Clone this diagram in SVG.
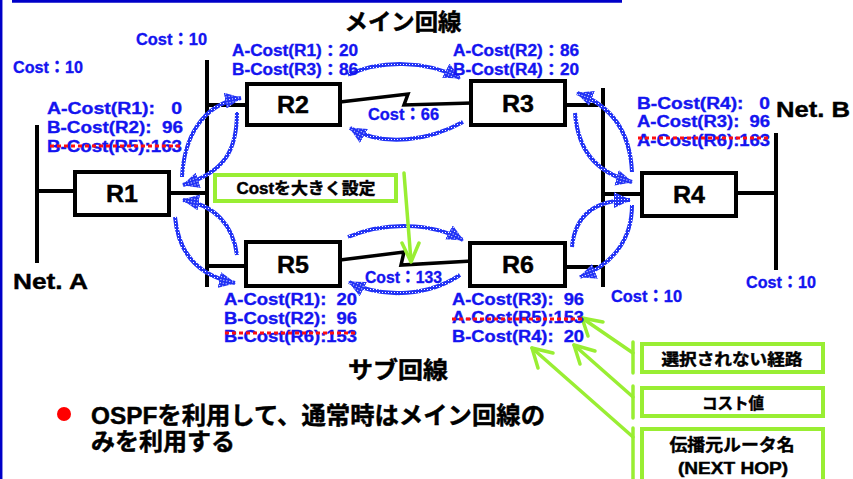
<svg xmlns="http://www.w3.org/2000/svg" width="853" height="479" viewBox="0 0 853 479">
<style>
.lbl{font-family:'Liberation Sans','Noto Sans CJK JP',sans-serif;font-weight:bold;font-size:16px;fill:#1414f0;stroke:#1414f0;stroke-width:0.35;white-space:pre}
.cost{font-family:'Liberation Sans','Noto Sans CJK JP',sans-serif;font-weight:bold;font-size:17px;fill:#1414f0;stroke:#1414f0;stroke-width:0.35}
.rt{font-family:'Liberation Sans',sans-serif;font-weight:bold;font-size:23px;fill:#000;stroke:#000;stroke-width:0.4;text-anchor:middle}
.net{font-family:'Liberation Sans',sans-serif;font-weight:bold;font-size:22px;fill:#000;stroke:#000;stroke-width:0.4}
.jp{font-family:'Liberation Sans','Noto Sans CJK JP',sans-serif;font-weight:bold;fill:#000;stroke:#000;stroke-width:0.45}
.box{fill:#fff;stroke:#000;stroke-width:4}
.wire{stroke:#000;stroke-width:4;fill:none}
.link{stroke:#000;stroke-width:3.5;fill:none;stroke-linejoin:miter}
.gbox{fill:#fff;stroke:#99ee33;stroke-width:4}
.gl{stroke:#99ee33;stroke-width:3.5;fill:none;stroke-linecap:round;stroke-linejoin:round}
.adv{stroke:url(#chk);stroke-width:4;fill:none;marker-end:url(#ah)}
.strike{stroke:#ff1010;stroke-width:3;stroke-dasharray:4 3}
</style>
<defs>
<pattern id="chk" width="3" height="3" patternUnits="userSpaceOnUse">
<rect width="3" height="3" fill="#2233f5"/>
<rect x="1" y="1" width="1" height="1" fill="#ffffff"/>
</pattern>
<marker id="ah" markerUnits="userSpaceOnUse" markerWidth="17" markerHeight="16" viewBox="0 0 17 16" refX="16" refY="8" orient="auto">
<path d="M0,0 L17,8 L0,16 Z" fill="url(#chk)"/>
</marker>
</defs>

<g id="frame">
<line x1="1.2" y1="0" x2="1.2" y2="479" stroke="#0000c8" stroke-width="2.5"/>
<line x1="12" y1="1.2" x2="622" y2="1.2" stroke="#0000c8" stroke-width="3"/>
</g>

<g id="titles">
<text class="jp" x="403" y="30" font-size="23" text-anchor="middle" textLength="117" lengthAdjust="spacingAndGlyphs">メイン回線</text>
<text class="jp" x="398" y="378" font-size="23" text-anchor="middle" textLength="100" lengthAdjust="spacingAndGlyphs">サブ回線</text>
</g>

<g id="NetA">
<line class="wire" x1="37" y1="125" x2="37" y2="263"/>
<text class="net" x="13" y="289" textLength="75" lengthAdjust="spacingAndGlyphs">Net. A</text>
</g>
<g id="NetB">
<line class="wire" x1="776" y1="133" x2="776" y2="270"/>
<text class="net" x="776" y="117" textLength="74" lengthAdjust="spacingAndGlyphs">Net. B</text>
</g>
<g id="mainBusLeft">
<line class="wire" x1="207" y1="60" x2="207" y2="287"/>
</g>
<g id="mainBusRight">
<line class="wire" x1="603" y1="88" x2="603" y2="287"/>
</g>

<g id="connectors">
<line class="wire" x1="37" y1="191" x2="77" y2="191"/>
<line class="wire" x1="168" y1="193" x2="207" y2="193"/>
<line class="wire" x1="207" y1="105" x2="249" y2="105"/>
<line class="wire" x1="207" y1="266" x2="248" y2="266"/>
<line class="wire" x1="563" y1="105" x2="603" y2="105"/>
<line class="wire" x1="563" y1="267" x2="603" y2="267"/>
<line class="wire" x1="603" y1="194" x2="644" y2="194"/>
<line class="wire" x1="734" y1="193" x2="776" y2="193"/>
<polyline class="link" points="340,102 408,94 404,105 472,103"/>
<polyline class="link" points="340,260 404,252 401,265 472,261"/>
<path class="adv" d="M182,177 C184,140 200,105 241,98"/>
<path class="adv" d="M237,112 C237,150 225,172 183,185"/>
<path class="adv" d="M237,255 C233,225 215,205 183,200"/>
<path class="adv" d="M175,217 C178,250 195,275 235,283"/>
<path class="adv" d="M348,75 C380,60 425,60 460,78"/>
<path class="adv" d="M463,122 C430,140 385,148 350,128"/>
<path class="adv" d="M632,172 C630,130 610,105 577,93"/>
<path class="adv" d="M575,113 C578,150 595,172 632,182"/>
<path class="adv" d="M572,247 C575,215 595,200 630,200"/>
<path class="adv" d="M632,205 C632,240 612,265 580,277"/>
<path class="adv" d="M348,237 C385,222 430,222 463,240"/>
<path class="adv" d="M460,275 C430,295 385,300 349,282"/>
<line class="gl" x1="404" y1="173" x2="411" y2="261"/>
<polyline class="gl" points="402,243 411,262 419,243"/>
<line class="gl" x1="633" y1="353" x2="582" y2="318"/>
<polyline class="gl" points="603,322 582,318 588,336"/>
<line class="gl" x1="633" y1="397" x2="574" y2="345"/>
<polyline class="gl" points="595,351 574,345 580,364"/>
<line class="gl" x1="633" y1="437" x2="532" y2="348"/>
<polyline class="gl" points="553,353 532,348 538,368"/>
<line class="gl" x1="633" y1="342" x2="633" y2="373" stroke-linecap="butt"/>
<line class="gl" x1="633" y1="386" x2="633" y2="418" stroke-linecap="butt"/>
<line class="gl" x1="633" y1="428" x2="633" y2="479" stroke-linecap="butt"/>
</g>

<g id="R1"><rect class="box" x="75" y="172" width="94" height="43"/><text class="rt" x="122" y="202" textLength="32" lengthAdjust="spacingAndGlyphs">R1</text></g>
<g id="R2"><rect class="box" x="247" y="84" width="93" height="41"/><text class="rt" x="293" y="113" textLength="32" lengthAdjust="spacingAndGlyphs">R2</text></g>
<g id="R3"><rect class="box" x="471" y="81" width="94" height="44"/><text class="rt" x="518" y="112" textLength="32" lengthAdjust="spacingAndGlyphs">R3</text></g>
<g id="R4"><rect class="box" x="642" y="173" width="94" height="43"/><text class="rt" x="689" y="203" textLength="32" lengthAdjust="spacingAndGlyphs">R4</text></g>
<g id="R5"><rect class="box" x="246" y="242" width="94" height="44"/><text class="rt" x="293" y="273" textLength="32" lengthAdjust="spacingAndGlyphs">R5</text></g>
<g id="R6"><rect class="box" x="470" y="243" width="95" height="43"/><text class="rt" x="518" y="273" textLength="32" lengthAdjust="spacingAndGlyphs">R6</text></g>

<g id="costLabels">
<text class="cost" x="136" y="45" textLength="71" lengthAdjust="spacingAndGlyphs">Cost：10</text>
<text class="cost" x="13" y="73" textLength="70" lengthAdjust="spacingAndGlyphs">Cost：10</text>
<text class="cost" x="368" y="120" textLength="71" lengthAdjust="spacingAndGlyphs">Cost：66</text>
<text class="cost" x="365" y="283" textLength="77" lengthAdjust="spacingAndGlyphs">Cost：133</text>
<text class="cost" x="611" y="302" textLength="71" lengthAdjust="spacingAndGlyphs">Cost：10</text>
<text class="cost" x="746" y="288" textLength="70" lengthAdjust="spacingAndGlyphs">Cost：10</text>
</g>

<g id="tableR1">
<text class="lbl" x="47" y="114" textLength="135" lengthAdjust="spacingAndGlyphs" xml:space="preserve">A-Cost(R1):   0</text>
<text class="lbl" x="47" y="133" textLength="136" lengthAdjust="spacingAndGlyphs" xml:space="preserve">B-Cost(R2):  96</text>
<text class="lbl" x="47" y="152" textLength="135" lengthAdjust="spacingAndGlyphs">B-Cost(R5):163</text>
<line class="strike" x1="50" y1="146" x2="182" y2="146"/>
</g>
<g id="tableR2">
<text class="lbl" x="232" y="56" textLength="126" lengthAdjust="spacingAndGlyphs">A-Cost(R1)：20</text>
<text class="lbl" x="232" y="75" textLength="126" lengthAdjust="spacingAndGlyphs">B-Cost(R3)：86</text>
</g>
<g id="tableR3">
<text class="lbl" x="453" y="56" textLength="126" lengthAdjust="spacingAndGlyphs">A-Cost(R2)：86</text>
<text class="lbl" x="453" y="75" textLength="126" lengthAdjust="spacingAndGlyphs">B-Cost(R4)：20</text>
</g>
<g id="tableR4">
<text class="lbl" x="637" y="109" textLength="133" lengthAdjust="spacingAndGlyphs" xml:space="preserve">B-Cost(R4):   0</text>
<text class="lbl" x="637" y="127" textLength="133" lengthAdjust="spacingAndGlyphs" xml:space="preserve">A-Cost(R3):  96</text>
<text class="lbl" x="637" y="146" textLength="133" lengthAdjust="spacingAndGlyphs">A-Cost(R6):163</text>
<line class="strike" x1="638" y1="138" x2="768" y2="138"/>
</g>
<g id="tableR5">
<text class="lbl" x="224" y="305" textLength="133" lengthAdjust="spacingAndGlyphs" xml:space="preserve">A-Cost(R1):  20</text>
<text class="lbl" x="224" y="324" textLength="133" lengthAdjust="spacingAndGlyphs" xml:space="preserve">B-Cost(R2):  96</text>
<text class="lbl" x="224" y="342" textLength="133" lengthAdjust="spacingAndGlyphs">B-Cost(R6):153</text>
<line class="strike" x1="225" y1="333" x2="355" y2="333"/>
</g>
<g id="tableR6">
<text class="lbl" x="452" y="305" textLength="132" lengthAdjust="spacingAndGlyphs" xml:space="preserve">A-Cost(R3):  96</text>
<text class="lbl" x="452" y="323" textLength="132" lengthAdjust="spacingAndGlyphs">A-Cost(R5):153</text>
<text class="lbl" x="452" y="342" textLength="132" lengthAdjust="spacingAndGlyphs" xml:space="preserve">B-Cost(R4):  20</text>
<line class="strike" x1="452" y1="319" x2="585" y2="319"/>
</g>

<g id="noteCost">
<rect class="gbox" x="215" y="175" width="181" height="26"/>
<text class="jp" x="306" y="194" font-size="16" text-anchor="middle" textLength="139" lengthAdjust="spacingAndGlyphs">Costを大きく設定</text>
</g>
<g id="noteUnselected">
<rect class="gbox" x="642" y="344" width="181" height="28"/>
<text class="jp" x="732" y="365" font-size="16" text-anchor="middle" textLength="141" lengthAdjust="spacingAndGlyphs">選択されない経路</text>
</g>
<g id="noteCostValue">
<rect class="gbox" x="642" y="388" width="181" height="28"/>
<text class="jp" x="733" y="409" font-size="16" text-anchor="middle" textLength="62" lengthAdjust="spacingAndGlyphs">コスト値</text>
</g>
<g id="noteNextHop">
<rect class="gbox" x="642" y="429" width="181" height="60"/>
<text class="jp" x="732" y="451" font-size="17" text-anchor="middle" textLength="125" lengthAdjust="spacingAndGlyphs">伝播元ルータ名</text>
<text class="jp" x="733" y="474" font-size="16" text-anchor="middle" textLength="110" lengthAdjust="spacingAndGlyphs">(NEXT HOP)</text>
</g>

<g id="bullet">
<circle cx="64" cy="414" r="7" fill="#ff0000"/>
<text class="jp" x="91" y="424" font-size="24" textLength="454" lengthAdjust="spacingAndGlyphs">OSPFを利用して、通常時はメイン回線の</text>
<text class="jp" x="91" y="450" font-size="24">みを利用する</text>
</g>
</svg>
